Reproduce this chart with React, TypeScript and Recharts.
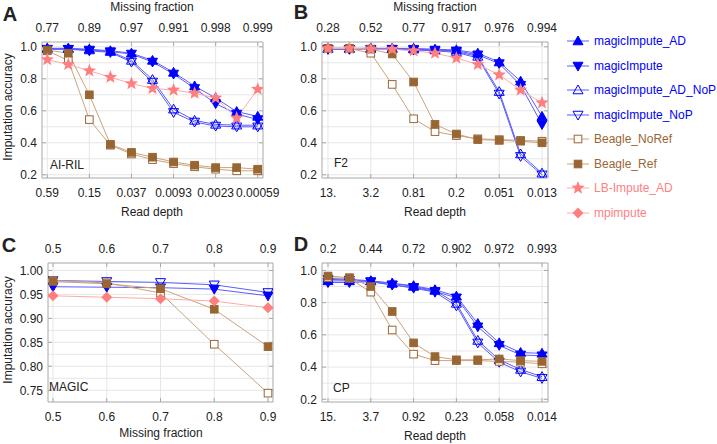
import React from "react";
import { LineChart, Line, XAxis, YAxis, ReferenceLine } from "recharts";

const FONT = "'Liberation Sans', Arial, Helvetica, sans-serif";
const BLUE = "#0000ff";
const BLUE_LINE = "#5c5cff";
const BROWN = "#996633";
const BROWN_LINE = "#c9a47c";
const PINK = "#ff7f7f";
const PINK_LINE = "#ffaaaa";
const FRAME = "#a8a8a8";
const GRID = "#e6e6e6";
const TEXT = "#222";

// ---- panel A: AI-RIL ----
const aIndex = [0, 1, 2, 3, 4, 5, 6, 7, 8, 9, 10];
const aReadDepth = ["0.59", "0.15", "0.037", "0.0093", "0.0023", "0.00059"];
const aMissing = ["0.77", "0.89", "0.97", "0.991", "0.998", "0.999"];
const aMagicAD = [0.99, 0.99, 0.985, 0.975, 0.96, 0.915, 0.84, 0.755, 0.68, 0.595, 0.565];
const aMagic = [0.985, 0.985, 0.98, 0.97, 0.955, 0.905, 0.83, 0.74, 0.645, 0.58, 0.545];
const aMagicADNoP = [0.99, 0.99, 0.98, 0.97, 0.915, 0.795, 0.61, 0.54, 0.515, 0.51, 0.51];
const aMagicNoP = [0.985, 0.985, 0.975, 0.965, 0.905, 0.78, 0.59, 0.53, 0.505, 0.5, 0.5];
const aBeagleNoRef = [0.975, 0.915, 0.545, 0.385, 0.33, 0.295, 0.27, 0.25, 0.235, 0.225, 0.225];
const aBeagleRef = [0.98, 0.96, 0.7, 0.39, 0.34, 0.31, 0.28, 0.26, 0.245, 0.245, 0.235];
const aLB = [0.92, 0.89, 0.85, 0.81, 0.77, 0.74, 0.73, 0.71, 0.68, 0.555, 0.735];

// ---- panel B: F2 ----
const bIndex = [0, 1, 2, 3, 4, 5, 6, 7, 8, 9, 10];
const bReadDepth = ["13.", "3.2", "0.81", "0.2", "0.051", "0.013"];
const bMissing = ["0.28", "0.52", "0.77", "0.917", "0.976", "0.994"];
const bMagicAD = [0.99, 0.99, 0.99, 0.99, 0.99, 0.985, 0.98, 0.96, 0.905, 0.785, 0.565];
const bMagic = [0.985, 0.985, 0.985, 0.985, 0.985, 0.98, 0.975, 0.95, 0.895, 0.76, 0.515];
const bMagicADNoP = [0.99, 0.99, 0.99, 0.99, 0.985, 0.98, 0.97, 0.94, 0.72, 0.33, 0.21];
const bMagicNoP = [0.985, 0.985, 0.985, 0.985, 0.98, 0.975, 0.965, 0.93, 0.705, 0.315, 0.2];
const bBeagleNoRef = [0.99, 0.99, 0.96, 0.765, 0.55, 0.47, 0.445, 0.425, 0.42, 0.415, 0.41];
const bBeagleRef = [0.99, 0.99, 0.985, 0.955, 0.78, 0.515, 0.455, 0.42, 0.415, 0.41, 0.4];
const bLB = [0.99, 0.99, 0.985, 0.985, 0.975, 0.96, 0.93, 0.89, 0.825, 0.73, 0.65];

// ---- panel C: MAGIC ----
const cMissing = [0.5, 0.6, 0.7, 0.8, 0.9];
const cMagic = [0.966, 0.965, 0.964, 0.961, 0.947];
const cMagicNoP = [0.979, 0.977, 0.975, 0.97, 0.954];
const cBeagleNoRef = [0.979, 0.974, 0.953, 0.846, 0.744];
const cBeagleRef = [0.977, 0.972, 0.962, 0.919, 0.841];
const cMp = [0.947, 0.944, 0.941, 0.936, 0.922];

// ---- panel D: CP ----
const dIndex = [0, 1, 2, 3, 4, 5, 6, 7, 8, 9, 10];
const dReadDepth = ["15.", "3.7", "0.92", "0.23", "0.058", "0.014"];
const dMissing = ["0.2", "0.44", "0.72", "0.902", "0.972", "0.993"];
const dMagicAD = [0.935, 0.935, 0.935, 0.92, 0.905, 0.88, 0.84, 0.67, 0.55, 0.49, 0.485];
const dMagic = [0.925, 0.925, 0.93, 0.91, 0.895, 0.87, 0.83, 0.65, 0.535, 0.475, 0.47];
const dMagicADNoP = [0.95, 0.945, 0.935, 0.92, 0.9, 0.875, 0.795, 0.565, 0.445, 0.385, 0.34];
const dMagicNoP = [0.945, 0.94, 0.93, 0.91, 0.89, 0.865, 0.78, 0.55, 0.43, 0.37, 0.33];
const dBeagleNoRef = [0.955, 0.95, 0.865, 0.63, 0.48, 0.44, 0.44, 0.44, 0.435, 0.43, 0.42];
const dBeagleRef = [0.965, 0.955, 0.9, 0.745, 0.55, 0.465, 0.445, 0.445, 0.45, 0.44, 0.435];

const legendNames = [
  "magicImpute_AD",
  "magicImpute",
  "magicImpute_AD_NoP",
  "magicImpute_NoP",
  "Beagle_NoRef",
  "Beagle_Ref",
  "LB-Impute_AD",
  "mpimpute",
];

type Shape = "triUp" | "triDown" | "square" | "star" | "diamond";
interface Spec {
  shape: Shape;
  filled: boolean;
  color: string;
  line: string;
}

const SPECS: Record<string, Spec> = {
  magicImpute_AD: { shape: "triUp", filled: true, color: BLUE, line: BLUE_LINE },
  magicImpute: { shape: "triDown", filled: true, color: BLUE, line: BLUE_LINE },
  magicImpute_AD_NoP: { shape: "triUp", filled: false, color: BLUE, line: BLUE_LINE },
  magicImpute_NoP: { shape: "triDown", filled: false, color: BLUE, line: BLUE_LINE },
  Beagle_NoRef: { shape: "square", filled: false, color: BROWN, line: BROWN_LINE },
  Beagle_Ref: { shape: "square", filled: true, color: BROWN, line: BROWN_LINE },
  "LB-Impute_AD": { shape: "star", filled: true, color: PINK, line: PINK_LINE },
  mpimpute: { shape: "diamond", filled: true, color: PINK, line: PINK_LINE },
};

function Marker({ cx, cy, spec }: { cx: number; cy: number; spec: Spec }) {
  const fill = spec.filled ? spec.color : "none";
  const sw = 1;
  switch (spec.shape) {
    case "triUp": {
      const s = 5;
      return (
        <polygon
          points={`${cx},${cy - s} ${cx + s},${cy + s * 0.75} ${cx - s},${cy + s * 0.75}`}
          fill={fill}
          stroke={spec.color}
          strokeWidth={sw}
        />
      );
    }
    case "triDown": {
      const s = 5;
      return (
        <polygon
          points={`${cx},${cy + s} ${cx + s},${cy - s * 0.75} ${cx - s},${cy - s * 0.75}`}
          fill={fill}
          stroke={spec.color}
          strokeWidth={sw}
        />
      );
    }
    case "square": {
      const s = 3.8;
      return (
        <rect
          x={cx - s}
          y={cy - s}
          width={s * 2}
          height={s * 2}
          fill={spec.filled ? spec.color : "#fff"}
          stroke={spec.color}
          strokeWidth={sw}
        />
      );
    }
    case "star": {
      const pts: string[] = [];
      for (let k = 0; k < 10; k++) {
        const r = k % 2 === 0 ? 7 : 3;
        const a = -Math.PI / 2 + (k * Math.PI) / 5;
        pts.push(`${cx + r * Math.cos(a)},${cy + r * Math.sin(a)}`);
      }
      return <polygon points={pts.join(" ")} fill={spec.color} />;
    }
    case "diamond": {
      const s = 5.5;
      return (
        <polygon
          points={`${cx},${cy - s} ${cx + s},${cy} ${cx},${cy + s} ${cx - s},${cy}`}
          fill={spec.color}
        />
      );
    }
  }
  return null;
}

function buildRows(xs: number[], cols: Record<string, number[]>) {
  return xs.map((x, i) => {
    const r: Record<string, number> = { x };
    for (const k of Object.keys(cols)) r[k] = cols[k][i];
    return r;
  });
}

interface PanelProps {
  rect: { x0: number; x1: number; y0: number; y1: number };
  data: Record<string, number>[];
  series: string[];
  xDomain: [number, number];
  xTicks: number[];
  bottomFmt: (v: number) => string;
  topFmt: (v: number) => string;
  yDomain: [number, number];
  yTicks: number[];
  yFmt: (v: number) => string;
  yGrid: number[];
}

const tickStyle = { fontSize: 12, fontFamily: FONT, fill: TEXT };

function Panel(p: PanelProps) {
  const { x0, x1, y0, y1 } = p.rect;
  const LW = 40;
  const RW = 26;
  const TH = 30;
  const BH = 24;
  const width = x1 - x0 + LW + RW;
  const height = y1 - y0 + TH + BH;
  return (
    <div style={{ position: "absolute", left: x0 - LW, top: y0 - TH }}>
      <LineChart
        width={width}
        height={height}
        data={p.data}
        margin={{ top: 0, right: 0, bottom: 0, left: 0 }}
      >
        {p.yGrid.map((v) => (
          <ReferenceLine key={"h" + v} y={v} xAxisId="bottom" yAxisId="left" stroke={GRID} />
        ))}
        {p.xTicks.map((v) => (
          <ReferenceLine key={"v" + v} x={v} xAxisId="bottom" yAxisId="left" stroke={GRID} />
        ))}
        <XAxis
          xAxisId="bottom"
          dataKey="x"
          type="number"
          domain={p.xDomain}
          ticks={p.xTicks}
          interval={0}
          allowDataOverflow
          tickFormatter={p.bottomFmt}
          height={BH}
          stroke={FRAME}
          tickSize={-4}
          tickMargin={14}
          tick={tickStyle}
        />
        <XAxis
          xAxisId="top"
          orientation="top"
          dataKey="x"
          type="number"
          domain={p.xDomain}
          ticks={p.xTicks}
          interval={0}
          allowDataOverflow
          tickFormatter={p.topFmt}
          height={TH}
          stroke={FRAME}
          tickSize={-4}
          tickMargin={14}
          tick={tickStyle}
        />
        <YAxis
          yAxisId="left"
          type="number"
          domain={p.yDomain}
          ticks={p.yTicks}
          interval={0}
          allowDataOverflow
          tickFormatter={p.yFmt}
          width={LW}
          stroke={FRAME}
          tickSize={-4}
          tickMargin={9}
          tick={tickStyle}
        />
        <YAxis
          yAxisId="right"
          orientation="right"
          type="number"
          domain={p.yDomain}
          ticks={p.yTicks}
          allowDataOverflow
          tickFormatter={() => ""}
          width={RW}
          stroke={FRAME}
          tickSize={-4}
          tick={tickStyle}
        />
        {p.series.map((name) => {
          const spec = SPECS[name];
          return (
            <Line
              key={name}
              xAxisId="bottom"
              yAxisId="left"
              dataKey={name}
              stroke={spec.line}
              strokeWidth={1}
              isAnimationActive={false}
              activeDot={false}
              dot={(d: any) => (
                <Marker key={name + "-" + d.index} cx={d.cx} cy={d.cy} spec={spec} />
              )}
            />
          );
        })}
      </LineChart>
    </div>
  );
}

function Txt({
  x,
  y,
  children,
  size = 12,
  bold = false,
  rotate = false,
  color = TEXT,
  align = "center",
}: {
  x: number;
  y: number;
  children: React.ReactNode;
  size?: number;
  bold?: boolean;
  rotate?: boolean;
  color?: string;
  align?: "center" | "left";
}) {
  const tx = align === "center" ? "-50%" : "0";
  return (
    <div
      style={{
        position: "absolute",
        left: x,
        top: y,
        transform: `translate(${tx}, -50%)${rotate ? " rotate(-90deg)" : ""}`,
        fontSize: size,
        fontWeight: bold ? 700 : 400,
        fontFamily: FONT,
        color,
        whiteSpace: "nowrap",
        lineHeight: 1,
      }}
    >
      {children}
    </div>
  );
}

function Legend() {
  return (
    <div style={{ position: "absolute", left: 566, top: 0 }}>
      {legendNames.map((name, i) => {
        const spec = SPECS[name];
        const cy = 41 + i * 24.5;
        return (
          <div key={name} style={{ position: "absolute", left: 0, top: cy - 8, height: 16, width: 150 }}>
            <svg width={24} height={16} style={{ position: "absolute", left: 0, top: 0 }}>
              <line x1={1} x2={23} y1={8} y2={8} stroke={spec.line} strokeWidth={1} />
              <Marker cx={12} cy={8} spec={spec} />
            </svg>
            <span
              style={{
                position: "absolute",
                left: 28,
                top: 1,
                fontSize: 12,
                fontFamily: FONT,
                color: spec.color,
                whiteSpace: "nowrap",
                lineHeight: "14px",
              }}
            >
              {name}
            </span>
          </div>
        );
      })}
    </div>
  );
}

const readFmt = (labels: string[]) => (v: number) => labels[Math.round(v / 2)] ?? "";
const evenTicks = [0, 2, 4, 6, 8, 10];
const gridAB = [0.2, 0.3, 0.4, 0.5, 0.6, 0.7, 0.8, 0.9, 1.0];
const ticksAB = [0.2, 0.4, 0.6, 0.8, 1.0];
const gridC = [0.75, 0.775, 0.8, 0.825, 0.85, 0.875, 0.9, 0.925, 0.95, 0.975, 1.0];
const ticksC = [0.75, 0.8, 0.85, 0.9, 0.95, 1.0];

export default function App() {
  const dataA = buildRows(aIndex, {
    magicImpute_AD: aMagicAD,
    magicImpute: aMagic,
    magicImpute_AD_NoP: aMagicADNoP,
    magicImpute_NoP: aMagicNoP,
    Beagle_NoRef: aBeagleNoRef,
    Beagle_Ref: aBeagleRef,
    "LB-Impute_AD": aLB,
  });
  const dataB = buildRows(bIndex, {
    magicImpute_AD: bMagicAD,
    magicImpute: bMagic,
    magicImpute_AD_NoP: bMagicADNoP,
    magicImpute_NoP: bMagicNoP,
    Beagle_NoRef: bBeagleNoRef,
    Beagle_Ref: bBeagleRef,
    "LB-Impute_AD": bLB,
  });
  const dataC = buildRows(cMissing, {
    magicImpute: cMagic,
    magicImpute_NoP: cMagicNoP,
    Beagle_NoRef: cBeagleNoRef,
    Beagle_Ref: cBeagleRef,
    mpimpute: cMp,
  });
  const dataD = buildRows(dIndex, {
    magicImpute_AD: dMagicAD,
    magicImpute: dMagic,
    magicImpute_AD_NoP: dMagicADNoP,
    magicImpute_NoP: dMagicNoP,
    Beagle_NoRef: dBeagleNoRef,
    Beagle_Ref: dBeagleRef,
  });
  const fullSeries = legendNames.slice(0, 7);

  return (
    <div
      style={{
        position: "absolute",
        left: 0,
        top: 0,
        width: 717,
        height: 444,
        background: "#fff",
        overflow: "hidden",
      }}
    >
      <Panel
        rect={{ x0: 42, x1: 263, y0: 42, y1: 178 }}
        data={dataA}
        series={fullSeries}
        xDomain={[-0.25, 10.25]}
        xTicks={evenTicks}
        bottomFmt={readFmt(aReadDepth)}
        topFmt={readFmt(aMissing)}
        yDomain={[0.18, 1.03]}
        yTicks={ticksAB}
        yFmt={(v) => v.toFixed(1)}
        yGrid={gridAB}
      />
      <Panel
        rect={{ x0: 322, x1: 548, y0: 42, y1: 178 }}
        data={dataB}
        series={fullSeries}
        xDomain={[-0.28, 10.28]}
        xTicks={evenTicks}
        bottomFmt={readFmt(bReadDepth)}
        topFmt={readFmt(bMissing)}
        yDomain={[0.18, 1.03]}
        yTicks={ticksAB}
        yFmt={(v) => v.toFixed(1)}
        yGrid={gridAB}
      />
      <Panel
        rect={{ x0: 48, x1: 273, y0: 263, y1: 402 }}
        data={dataC}
        series={["magicImpute", "magicImpute_NoP", "Beagle_NoRef", "Beagle_Ref", "mpimpute"]}
        xDomain={[0.4907, 0.9093]}
        xTicks={cMissing}
        bottomFmt={(v) => String(v)}
        topFmt={(v) => String(v)}
        yDomain={[0.7255, 1.0155]}
        yTicks={ticksC}
        yFmt={(v) => v.toFixed(2)}
        yGrid={gridC}
      />
      <Panel
        rect={{ x0: 322, x1: 548, y0: 263, y1: 402 }}
        data={dataD}
        series={legendNames.slice(0, 6)}
        xDomain={[-0.28, 10.28]}
        xTicks={evenTicks}
        bottomFmt={readFmt(dReadDepth)}
        topFmt={readFmt(dMissing)}
        yDomain={[0.183, 1.046]}
        yTicks={ticksAB}
        yFmt={(v) => v.toFixed(1)}
        yGrid={gridAB}
      />

      <Txt x={10} y={14} size={20} bold>A</Txt>
      <Txt x={301} y={12} size={20} bold>B</Txt>
      <Txt x={9} y={245} size={20} bold>C</Txt>
      <Txt x={301} y={244} size={20} bold>D</Txt>

      <Txt x={152} y={7}>Missing fraction</Txt>
      <Txt x={435} y={7}>Missing fraction</Txt>
      <Txt x={152} y={212}>Read depth</Txt>
      <Txt x={435} y={212}>Read depth</Txt>
      <Txt x={161} y={433}>Missing fraction</Txt>
      <Txt x={435} y={436}>Read depth</Txt>

      <Txt x={8} y={107} rotate>Imputation accuracy</Txt>
      <Txt x={8} y={330} rotate>Imputation accuracy</Txt>

      <Txt x={50} y={165} align="left">AI-RIL</Txt>
      <Txt x={334} y={163} align="left">F2</Txt>
      <Txt x={49} y={387} align="left">MAGIC</Txt>
      <Txt x={333} y={388} align="left">CP</Txt>

      <Legend />
    </div>
  );
}
